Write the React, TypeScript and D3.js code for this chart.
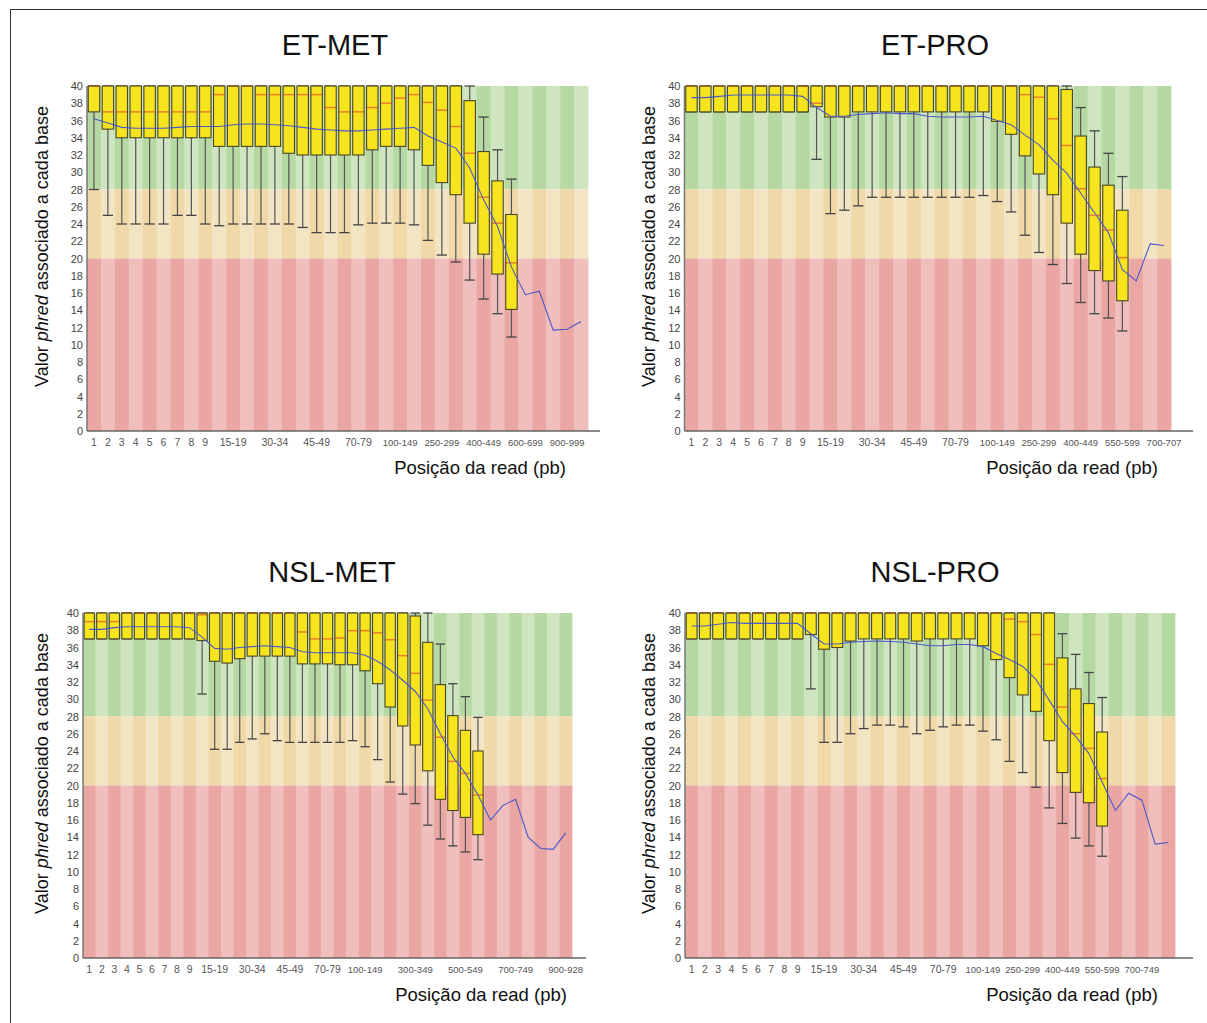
import React from "react";
import * as d3 from "d3";

// position groups (FastQC style)
const baseCats = [
  "1", "2", "3", "4", "5", "6", "7", "8", "9",
  "10-14", "15-19", "20-24", "25-29", "30-34", "35-39", "40-44", "45-49",
  "50-59", "60-69", "70-79", "80-89", "90-99",
  "100-149", "150-199", "200-249", "250-299", "300-349", "350-399", "400-449", "450-499",
];
const etMetCats = baseCats.concat(["500-599", "600-699", "700-799", "800-899", "900-999", "1000-1099"]);
const etProCats = baseCats.concat(["500-549", "550-599", "600-649", "650-699", "700-707"]);
const nslMetCats = baseCats.concat(["500-549", "550-599", "600-649", "650-699", "700-749", "750-799", "800-849", "850-899", "900-928"]);
const nslProCats = baseCats.concat(["500-549", "550-599", "600-649", "650-699", "700-749", "750-799", "800-849"]);

const firstTicks = ["1", "2", "3", "4", "5", "6", "7", "8", "9", "15-19", "30-34", "45-49", "70-79", "100-149"];
const etMetTicks = firstTicks.concat(["250-299", "400-449", "600-699", "900-999"]);
const etProTicks = firstTicks.concat(["250-299", "400-449", "550-599", "700-707"]);
const nslMetTicks = firstTicks.concat(["300-349", "500-549", "700-749", "900-928"]);
const nslProTicks = firstTicks.concat(["250-299", "400-449", "550-599", "700-749"]);

const phredTicks = [0, 2, 4, 6, 8, 10, 12, 14, 16, 18, 20, 22, 24, 26, 28, 30, 32, 34, 36, 38, 40];

// ET-MET
const etMetQ3 = [40, 40, 40, 40, 40, 40, 40, 40, 40, 40, 40, 40, 40, 40, 40, 40, 40, 40, 40, 40, 40, 40, 40, 40, 40, 40, 40, 38.3, 32.4, 29.0, 25.1];
const etMetMedian = [40, 37, 37, 37, 37, 37, 37, 37, 37, 39, 40, 40, 39, 39, 39, 39, 39, 37.5, 37, 37, 37.5, 38, 38.6, 39, 38.1, 37.2, 35.3, 32.2, 27.1, 24.1, 19.5];
const etMetQ1 = [37, 35, 34, 34, 34, 34, 34, 34, 34, 33, 33, 33, 33, 33, 32.2, 32, 32, 32, 32, 32, 32.6, 33, 33, 32.6, 30.8, 28.8, 27.4, 24.1, 20.5, 18.2, 14.1];
const etMetLow = [28, 25, 24, 24, 24, 24, 25, 25, 24, 23.8, 24, 24, 24, 24, 24, 23.6, 23, 23, 23, 23.9, 24.1, 24.1, 24.1, 23.9, 22.1, 20.4, 19.6, 17.5, 15.3, 13.6, 10.9];
const etMetHigh = [40, 40, 40, 40, 40, 40, 40, 40, 40, 40, 40, 40, 40, 40, 40, 40, 40, 40, 40, 40, 40, 40, 40, 40, 40, 40, 40, 40, 36.4, 32.6, 29.2];
const etMetMean = [36.2, 35.7, 35.2, 35.1, 35.1, 35.1, 35.2, 35.3, 35.3, 35.3, 35.5, 35.6, 35.6, 35.5, 35.4, 35.2, 35.0, 34.9, 34.8, 34.8, 34.9, 35.0, 35.1, 35.2, 34.2, 33.5, 32.8, 30.5, 26.8, 23.7, 19.0, 15.8, 16.2, 11.7, 11.8, 12.7];

// ET-PRO
const etProQ3 = [40, 40, 40, 40, 40, 40, 40, 40, 40, 40, 40, 40, 40, 40, 40, 40, 40, 40, 40, 40, 40, 40, 40, 40, 40, 40, 40, 39.6, 34.2, 30.6, 28.5, 25.6];
const etProMedian = [40, 40, 40, 40, 40, 40, 40, 40, 40, 38, 40, 40, 40, 40, 40, 40, 40, 40, 40, 40, 40, 40, 40, 40, 39.0, 38.7, 36.2, 33.1, 28.1, 25.0, 23.3, 20.1];
const etProQ1 = [37, 37, 37, 37, 37, 37, 37, 37, 37, 37.6, 36.4, 36.4, 37, 37, 37, 37, 37, 37, 37, 37, 37, 37, 35.9, 34.4, 31.9, 29.8, 27.4, 24.1, 20.5, 18.6, 17.4, 15.1];
const etProLow = [37, 37, 37, 37, 37, 37, 37, 37, 37, 31.5, 25.2, 25.6, 26.1, 27.1, 27.1, 27.1, 27.1, 27.1, 27.1, 27.1, 27.1, 27.3, 26.6, 25.4, 22.7, 20.7, 19.3, 17.1, 14.9, 13.6, 13.1, 11.6];
const etProHigh = [40, 40, 40, 40, 40, 40, 40, 40, 40, 40, 40, 40, 40, 40, 40, 40, 40, 40, 40, 40, 40, 40, 40, 40, 40, 40, 40, 40, 37.5, 34.8, 32.2, 29.5];
const etProMean = [38.65, 38.65, 38.8, 38.95, 38.95, 38.95, 38.95, 38.95, 38.8, 37.5, 36.5, 36.5, 36.7, 36.8, 36.9, 36.8, 36.8, 36.5, 36.4, 36.4, 36.4, 36.5, 36.0, 35.5, 34.3, 33.2, 31.4, 29.9, 27.6, 25.3, 23.0, 18.7, 17.4, 21.7, 21.5];

// NSL-MET
const nslMetQ3 = [40, 40, 40, 40, 40, 40, 40, 40, 40, 40, 40, 40, 40, 40, 40, 40, 40, 40, 40, 40, 40, 40, 40, 40, 40, 40, 39.65, 36.6, 31.7, 28.1, 26.4, 24.0];
const nslMetMedian = [39, 39, 39, 40, 40, 40, 40, 40, 40, 39.8, 40, 40, 40, 40, 40, 40, 40, 37.8, 37, 37, 37.1, 37.95, 37.95, 37.7, 36.9, 35.05, 33.0, 29.9, 25.6, 22.8, 21.4, 18.9];
const nslMetQ1 = [37, 37, 37, 37, 37, 37, 37, 37, 37, 36.8, 34.4, 34.2, 34.7, 35, 35, 35, 35, 34.1, 34.1, 34.1, 34.0, 34.0, 33.3, 31.8, 29.1, 26.9, 24.7, 21.7, 18.4, 17.1, 16.3, 14.3];
const nslMetLow = [37, 37, 37, 37, 37, 37, 37, 37, 37, 30.6, 24.2, 24.2, 25.0, 25.4, 26.0, 25.2, 25.0, 25.0, 25.0, 25.0, 25.0, 25.2, 24.5, 23.0, 20.4, 19.0, 17.9, 15.4, 13.8, 13.0, 12.3, 11.4];
const nslMetHigh = [40, 40, 40, 40, 40, 40, 40, 40, 40, 40, 40, 40, 40, 40, 40, 40, 40, 40, 40, 40, 40, 40, 40, 40, 40, 40, 40, 40, 36.4, 31.8, 30.3, 27.9];
const nslMetMean = [38.1, 38.1, 38.3, 38.4, 38.4, 38.4, 38.4, 38.4, 38.3, 37.2, 35.9, 35.8, 36.0, 36.1, 36.2, 36.1, 36.0, 35.5, 35.4, 35.4, 35.4, 35.4, 35.1, 34.4, 33.4, 32.2, 30.9, 28.9, 26.0, 23.3, 21.4, 18.9, 16.0, 17.7, 18.4, 14.0, 12.7, 12.6, 14.5];

// NSL-PRO
const nslProQ3 = [40, 40, 40, 40, 40, 40, 40, 40, 40, 40, 40, 40, 40, 40, 40, 40, 40, 40, 40, 40, 40, 40, 40, 40, 40, 40, 40, 40, 34.8, 31.2, 29.5, 26.2];
const nslProMedian = [40, 40, 40, 40, 40, 40, 40, 40, 40, 40, 40, 40, 40, 40, 40, 40, 40, 40, 40, 40, 40, 40, 40, 40, 39.3, 39.0, 37.5, 34.05, 29.1, 26.0, 24.3, 20.8];
const nslProQ1 = [37, 37, 37, 37, 37, 37, 37, 37, 37, 37.5, 35.8, 36.0, 36.75, 37, 37, 37, 37, 36.75, 37, 37, 37, 37, 36.2, 34.6, 32.5, 30.5, 28.6, 25.2, 21.5, 19.2, 18.0, 15.3];
const nslProLow = [37, 37, 37, 37, 37, 37, 37, 37, 37, 31.2, 25.0, 25.0, 26.0, 26.6, 27.0, 27.0, 26.8, 26.0, 26.4, 26.8, 27.0, 27.0, 26.3, 25.3, 22.8, 21.5, 19.8, 17.4, 15.6, 13.9, 13.0, 11.8];
const nslProHigh = [40, 40, 40, 40, 40, 40, 40, 40, 40, 40, 40, 40, 40, 40, 40, 40, 40, 40, 40, 40, 40, 40, 40, 40, 40, 40, 40, 40, 37.6, 35.2, 33.1, 30.2];
const nslProMean = [38.5, 38.5, 38.7, 38.9, 38.8, 38.8, 38.8, 38.8, 38.8, 37.6, 36.4, 36.4, 36.6, 36.7, 36.75, 36.7, 36.6, 36.4, 36.2, 36.2, 36.35, 36.35, 36.1, 35.3, 34.6, 33.8, 32.3, 29.9, 27.4, 25.7, 23.7, 20.4, 17.1, 19.1, 18.3, 13.2, 13.4];

const zones = [
  { from: 28, to: 40, dark: "#b6d9a4", light: "#cee5c0" },
  { from: 20, to: 28, dark: "#f0d8a8", light: "#f3e4c4" },
  { from: 0, to: 20, dark: "#eaa6a2", light: "#f0bfbd" },
];

const font = "'Liberation Sans', Arial, sans-serif";

type PanelProps = {
  title: string;
  cats: string[];
  ticks: string[];
  q1: number[];
  q3: number[];
  median: number[];
  low: number[];
  high: number[];
  mean: number[];
  x0: number;
  x1: number;
  yTop: number;
  yBottom: number;
  axisEnd: number;
  titleX: number;
  yLabelX: number;
  xLabelX: number;
};

function Panel(p: PanelProps) {
  const x = d3.scaleBand<string>().domain(p.cats).range([p.x0, p.x1]);
  const y = d3.scaleLinear().domain([0, 40]).range([p.yBottom, p.yTop]);
  const bw = x.bandwidth();
  const boxW = bw * 0.82;
  const cx = (c: string) => (x(c) as number) + bw / 2;

  const meanLine = d3
    .line<number>()
    .x((d, i) => cx(p.cats[i]))
    .y((d) => y(d));

  const boxes = p.q1.map((v, i) => ({
    c: p.cats[i],
    q1: v,
    q3: p.q3[i],
    med: p.median[i],
    lo: p.low[i],
    hi: p.high[i],
  }));

  const midY = (p.yTop + p.yBottom) / 2 - 12;

  return (
    <g fontFamily={font}>
      <text x={p.titleX} y={p.yTop - 31} textAnchor="middle" fontSize={29} fill="#111">
        {p.title}
      </text>

      {p.cats.map((c, i) =>
        zones.map((z) => (
          <rect
            key={c + z.from}
            x={x(c)}
            y={y(z.to)}
            width={bw + 0.4}
            height={y(z.from) - y(z.to)}
            fill={i % 2 === 0 ? z.dark : z.light}
          />
        ))
      )}

      {boxes.map((b) => (
        <g key={b.c}>
          <line x1={cx(b.c)} x2={cx(b.c)} y1={y(b.lo)} y2={y(b.hi)} stroke="#555" strokeWidth={1.2} />
          <line x1={cx(b.c) - boxW * 0.45} x2={cx(b.c) + boxW * 0.45} y1={y(b.lo)} y2={y(b.lo)} stroke="#444" strokeWidth={1.3} />
          <line x1={cx(b.c) - boxW * 0.45} x2={cx(b.c) + boxW * 0.45} y1={y(b.hi)} y2={y(b.hi)} stroke="#444" strokeWidth={1.3} />
          <rect x={cx(b.c) - boxW / 2} y={y(b.q3)} width={boxW} height={y(b.q1) - y(b.q3)} fill="#f6e41e" />
          <line x1={cx(b.c) - boxW / 2} x2={cx(b.c) + boxW / 2} y1={y(b.med)} y2={y(b.med)} stroke="#e8802a" strokeWidth={1.5} />
          <rect x={cx(b.c) - boxW / 2} y={y(b.q3)} width={boxW} height={y(b.q1) - y(b.q3)} fill="none" stroke="#4a4628" strokeWidth={1.1} />
        </g>
      ))}

      <path d={meanLine(p.mean) || ""} fill="none" stroke="#4b58c8" strokeWidth={1.1} />

      <line x1={p.x0} x2={p.x0} y1={p.yTop} y2={p.yBottom} stroke="#777" strokeWidth={1.5} />
      <line x1={p.x0} x2={p.axisEnd} y1={p.yBottom} y2={p.yBottom} stroke="#666" strokeWidth={1.5} />

      {phredTicks.map((t) => (
        <text key={t} x={p.x0 - 4} y={y(t) + 4} textAnchor="end" fontSize={11} fill="#444">
          {t}
        </text>
      ))}

      {p.ticks.map((t) => (
        <text key={t} x={cx(t)} y={p.yBottom + 15} textAnchor="middle" fontSize={t.length > 5 ? 9.5 : 10.5} fill="#555">
          {t}
        </text>
      ))}

      <text transform={`translate(${p.yLabelX},${midY}) rotate(-90)`} textAnchor="middle" fontSize={18} fill="#111">
        Valor <tspan fontStyle="italic">phred</tspan> associado a cada base
      </text>

      <text x={p.xLabelX} y={p.yBottom + 43} textAnchor="middle" fontSize={18.5} fill="#111">
        Posição da read (pb)
      </text>
    </g>
  );
}

export default function App() {
  return (
    <svg width={1207} height={1023} style={{ position: "absolute", left: 0, top: 0, background: "#fff" }}>
      <line x1={10} x2={1207} y1={9.5} y2={9.5} stroke="#333" strokeWidth={1} />
      <line x1={10.5} x2={10.5} y1={9} y2={1023} stroke="#333" strokeWidth={1} />
      <Panel
        title="ET-MET" cats={etMetCats} ticks={etMetTicks}
        q1={etMetQ1} q3={etMetQ3} median={etMetMedian} low={etMetLow} high={etMetHigh} mean={etMetMean}
        x0={87} x1={588} yTop={86} yBottom={431} axisEnd={600}
        titleX={335} yLabelX={48} xLabelX={480}
      />
      <Panel
        title="ET-PRO" cats={etProCats} ticks={etProTicks}
        q1={etProQ1} q3={etProQ3} median={etProMedian} low={etProLow} high={etProHigh} mean={etProMean}
        x0={684.5} x1={1171} yTop={86} yBottom={431} axisEnd={1193}
        titleX={935} yLabelX={655} xLabelX={1072}
      />
      <Panel
        title="NSL-MET" cats={nslMetCats} ticks={nslMetTicks}
        q1={nslMetQ1} q3={nslMetQ3} median={nslMetMedian} low={nslMetLow} high={nslMetHigh} mean={nslMetMean}
        x0={83} x1={572} yTop={613} yBottom={958} axisEnd={586}
        titleX={332} yLabelX={48} xLabelX={481}
      />
      <Panel
        title="NSL-PRO" cats={nslProCats} ticks={nslProTicks}
        q1={nslProQ1} q3={nslProQ3} median={nslProMedian} low={nslProLow} high={nslProHigh} mean={nslProMean}
        x0={685} x1={1175} yTop={613} yBottom={958} axisEnd={1193}
        titleX={935} yLabelX={655} xLabelX={1072}
      />
    </svg>
  );
}
